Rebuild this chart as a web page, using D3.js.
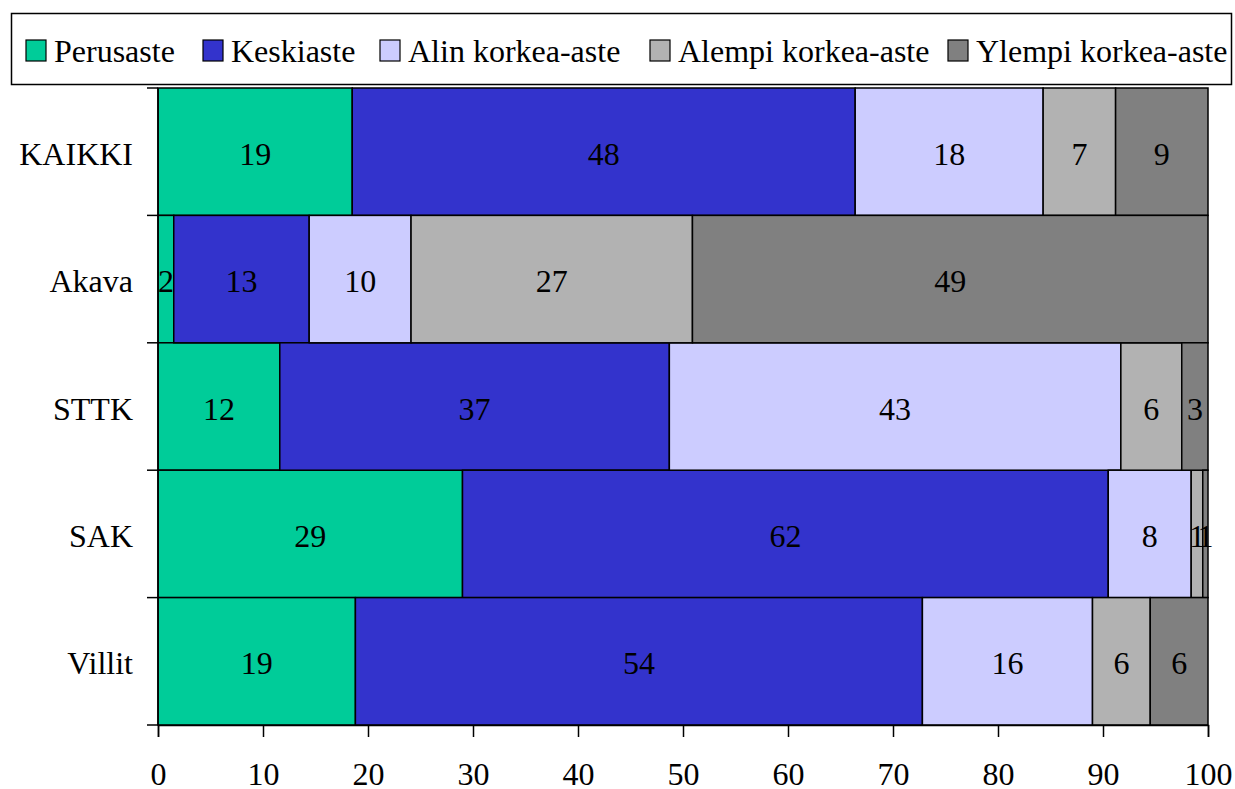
<!DOCTYPE html>
<html>
<head>
  <meta charset="UTF-8">
  <style>
    body {
      margin: 0;
      background-color: #ffffff;
    }
    svg {
      display: block;
      font-family: 'Liberation Serif', 'Times New Roman', serif;
    }
  </style>
</head>
<body>

<svg id="chart"></svg>

<script src="https://d3js.org/d3.v7.min.js"></script>

<script>
let width = 1235, height = 789;

// data (percent shares, rounded labels shown in bars)
let groups = ["KAIKKI", "Akava", "STTK", "SAK", "Villit"];
let series = ["Perusaste", "Keskiaste", "Alin korkea-aste", "Alempi korkea-aste", "Ylempi korkea-aste"];
let colors = ["#00cc99", "#3333cc", "#ccccff", "#b2b2b2", "#808080"];
let perusaste = [18.5, 1.5, 11.6, 29.0, 18.8];
let keskiaste = [47.9, 12.9, 37.1, 61.5, 54.0];
let alin = [17.9, 9.7, 43.0, 7.9, 16.2];
let alempi = [6.9, 26.8, 5.8, 1.1, 5.5];
let ylempi = [8.8, 49.1, 2.5, 0.5, 5.5];
let xTicks = [0, 10, 20, 30, 40, 50, 60, 70, 80, 90, 100];

let valueLists = [perusaste, keskiaste, alin, alempi, ylempi];
let table = groups.map((g, i) => {
  let row = { group: g };
  series.forEach((s, j) => row[s] = valueLists[j][i]);
  return row;
});

let margin = { left: 158, right: 27, top: 88, bottom: 64 };
let fontSize = 32;

let svg = d3.select("#chart")
    .attr("width", width)
    .attr("height", height);

let x = d3.scaleLinear()
    .domain([0, 100])
    .range([margin.left, width - margin.right]);

let y = d3.scaleBand()
    .domain(groups)
    .range([margin.top, height - margin.bottom])
    .padding(0);

let color = d3.scaleOrdinal().domain(series).range(colors);

let stacked = d3.stack().keys(series)(table);

// bars
let layers = svg.append("g")
    .selectAll("g")
    .data(stacked)
    .enter()
    .append("g")
    .attr("fill", d => color(d.key));

layers.selectAll("rect")
    .data(d => d)
    .enter()
    .append("rect")
    .attr("x", d => x(d[0]))
    .attr("y", d => y(d.data.group))
    .attr("width", d => x(d[1]) - x(d[0]))
    .attr("height", y.bandwidth())
    .attr("stroke", "#000")
    .attr("stroke-width", 1.5);

// value labels
layers.selectAll("text")
    .data(d => d)
    .enter()
    .append("text")
    .attr("x", d => (x(d[0]) + x(d[1])) / 2)
    .attr("y", d => y(d.data.group) + y.bandwidth() / 2 + 13)
    .attr("text-anchor", "middle")
    .attr("font-size", fontSize)
    .attr("fill", "#000")
    .text(d => Math.round(d[1] - d[0]));

// x axis
let xAxis = svg.append("g")
    .attr("transform", "translate(0," + (height - margin.bottom) + ")")
    .call(d3.axisBottom(x).tickValues(xTicks).tickSize(12).tickPadding(25));
xAxis.select(".domain").attr("stroke", "#000").attr("stroke-width", 1.5);
xAxis.selectAll(".tick line").attr("stroke", "#000").attr("stroke-width", 1.5);
xAxis.selectAll("text")
    .attr("font-family", "'Liberation Serif', serif")
    .attr("font-size", fontSize)
    .attr("fill", "#000");

// y axis line with ticks at band edges
let edges = groups.map(g => y(g)).concat([height - margin.bottom]);
svg.append("line")
    .attr("x1", x(0)).attr("x2", x(0))
    .attr("y1", margin.top).attr("y2", height - margin.bottom)
    .attr("stroke", "#000").attr("stroke-width", 1.5);
svg.append("g")
    .selectAll("line")
    .data(edges)
    .enter()
    .append("line")
    .attr("x1", x(0) - 11).attr("x2", x(0))
    .attr("y1", d => d).attr("y2", d => d)
    .attr("stroke", "#000").attr("stroke-width", 1.5);

svg.append("g")
    .selectAll("text")
    .data(groups)
    .enter()
    .append("text")
    .attr("x", 133)
    .attr("y", d => y(d) + y.bandwidth() / 2 + 13)
    .attr("text-anchor", "end")
    .attr("font-size", fontSize)
    .attr("fill", "#000")
    .text(d => d);

// legend
let legend = svg.append("g");
legend.append("rect")
    .attr("x", 11.5).attr("y", 13.5)
    .attr("width", 1220).attr("height", 71)
    .attr("fill", "#fff")
    .attr("stroke", "#000")
    .attr("stroke-width", 1.5);

let legendX = [26, 203, 380, 650, 948];
let items = legend.selectAll("g.item")
    .data(series)
    .enter()
    .append("g")
    .attr("class", "item")
    .attr("transform", (d, i) => "translate(" + legendX[i] + ",0)");
items.append("rect")
    .attr("x", 0).attr("y", 40)
    .attr("width", 20).attr("height", 21)
    .attr("fill", d => color(d))
    .attr("stroke", "#000")
    .attr("stroke-width", 1.2);
items.append("text")
    .attr("x", 28).attr("y", 62)
    .attr("font-size", fontSize)
    .attr("fill", "#000")
    .text(d => d);
</script>

</body>
</html>
